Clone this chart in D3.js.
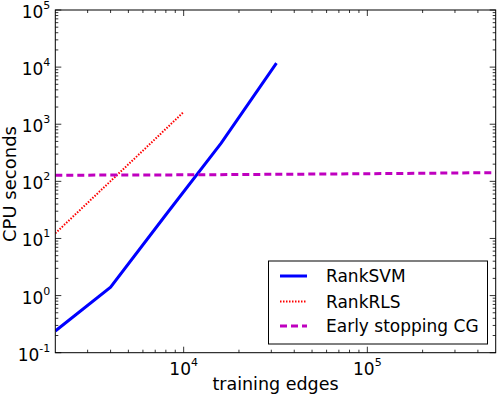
<!DOCTYPE html>
<html>
<head>
<meta charset="utf-8">
<script src="https://d3js.org/d3.v7.min.js"></script>
<style>
  body { margin: 0; background: #fff; }
  text { font-family: "DejaVu Sans", sans-serif; fill: #000; }
</style>
</head>
<body>
<div id="chart"></div>
<script>
// data (x = training edges, y = CPU seconds)
var svmEdges = [2000, 4000, 8000, 16000, 32000];
var svmSecs  = [0.24, 1.4, 26, 465, 11700];

var rlsEdges = [2000, 4000, 6000, 8000, 10000];
var rlsSecs  = [12.3, 101, 345, 830, 1640];

var cgEdges = [2000, 10000, 50000, 100000, 500000];
var cgSecs  = [128, 130, 134, 136, 142];

var xMajor = [1e4, 1e5];
var xMajorExp = ["4", "5"];
var yMajor = [1e-1, 1e0, 1e1, 1e2, 1e3, 1e4, 1e5];
var yMajorExp = ["-1", "0", "1", "2", "3", "4", "5"];

var legendNames = ["RankSVM", "RankRLS", "Early stopping CG"];

var W = 498, H = 396;
var margin = {top: 10, right: 2.3, bottom: 43.3, left: 55.3},
    width = W - margin.left - margin.right,
    height = H - margin.top - margin.bottom;

var svg = d3.select("#chart").append("svg")
    .attr("width", W)
    .attr("height", H);

var g = svg.append("g")
    .attr("transform", "translate(" + margin.left + "," + margin.top + ")");

var x = d3.scaleLog().domain([2000, 500000]).range([0, width]);
var y = d3.scaleLog().domain([0.1, 1e5]).range([height, 0]);

// minor tick values for a log scale
function minorTicks(lo, hi) {
  var out = [];
  for (var e = Math.floor(Math.log10(lo)); e <= Math.ceil(Math.log10(hi)); e++) {
    for (var m = 2; m <= 9; m++) {
      var v = m * Math.pow(10, e);
      if (v > lo && v < hi) out.push(v);
    }
  }
  return out;
}

var xMinor = minorTicks(2000, 500000);
var yMinor = minorTicks(0.1, 1e5);

// clip for the lines
g.append("clipPath").attr("id", "clip")
  .append("rect").attr("width", width).attr("height", height);

var line = d3.line()
    .x(function(d) { return x(d[0]); })
    .y(function(d) { return y(d[1]); });

var series = [
  {edges: svmEdges, secs: svmSecs, color: "#0000ff", w: 3, dash: null},
  {edges: rlsEdges, secs: rlsSecs, color: "#ff0000", w: 2, dash: "1.5,1.5"},
  {edges: cgEdges,  secs: cgSecs,  color: "#bf00bf", w: 3, dash: "7,4"}
];

series.forEach(function(s) {
  g.append("path")
    .datum(d3.zip(s.edges, s.secs))
    .attr("clip-path", "url(#clip)")
    .attr("d", line)
    .attr("fill", "none")
    .attr("stroke", s.color)
    .attr("stroke-width", s.w)
    .attr("stroke-dasharray", s.dash);
});

// ticks, pointing inward on all four sides
var ticks = g.append("g").attr("stroke", "#000").attr("stroke-width", 0.8);
function xTick(v, len) {
  ticks.append("line").attr("x1", x(v)).attr("x2", x(v)).attr("y1", height).attr("y2", height - len);
  ticks.append("line").attr("x1", x(v)).attr("x2", x(v)).attr("y1", 0).attr("y2", len);
}
function yTick(v, len) {
  ticks.append("line").attr("y1", y(v)).attr("y2", y(v)).attr("x1", 0).attr("x2", len);
  ticks.append("line").attr("y1", y(v)).attr("y2", y(v)).attr("x1", width).attr("x2", width - len);
}
xMajor.forEach(function(v) { xTick(v, 6); });
xMinor.forEach(function(v) { xTick(v, 3); });
yMajor.forEach(function(v) { yTick(v, 6); });
yMinor.forEach(function(v) { yTick(v, 3); });

// frame
g.append("rect")
  .attr("width", width).attr("height", height)
  .attr("fill", "none").attr("stroke", "#000").attr("stroke-width", 1);

// tick labels with superscript exponents
xMajor.forEach(function(v, i) {
  var t = g.append("text")
    .attr("x", x(v)).attr("y", height + 22)
    .attr("text-anchor", "middle")
    .style("font-size", "17px");
  t.append("tspan").text("10");
  t.append("tspan").attr("dy", -9).style("font-size", "11px").text(xMajorExp[i]);
});

yMajor.forEach(function(v, i) {
  var t = g.append("text")
    .attr("x", -5).attr("y", y(v) + 8)
    .attr("text-anchor", "end")
    .style("font-size", "17px");
  t.append("tspan").text("10");
  t.append("tspan").attr("dy", -9).style("font-size", "11px").text(yMajorExp[i]);
});

// axis labels
svg.append("text")
  .attr("x", margin.left + width / 2).attr("y", 390)
  .attr("text-anchor", "middle")
  .style("font-size", "17.5px")
  .text("training edges");

svg.append("text")
  .attr("transform", "translate(16,184) rotate(-90)")
  .attr("text-anchor", "middle")
  .style("font-size", "18px")
  .text("CPU seconds");

// legend
var lg = svg.append("g");
lg.append("rect")
  .attr("x", 268.5).attr("y", 261).attr("width", 219).attr("height", 83)
  .attr("fill", "#fff").attr("stroke", "#000").attr("stroke-width", 1);

var rowY = [276, 301.5, 326];
series.forEach(function(s, i) {
  lg.append("line")
    .attr("x1", 280).attr("x2", 307)
    .attr("y1", rowY[i]).attr("y2", rowY[i])
    .attr("stroke", s.color)
    .attr("stroke-width", s.w)
    .attr("stroke-dasharray", s.dash);
  lg.append("text")
    .attr("x", 326).attr("y", rowY[i] + 6.3)
    .style("font-size", "17px")
    .text(legendNames[i]);
});
</script>
</body>
</html>
